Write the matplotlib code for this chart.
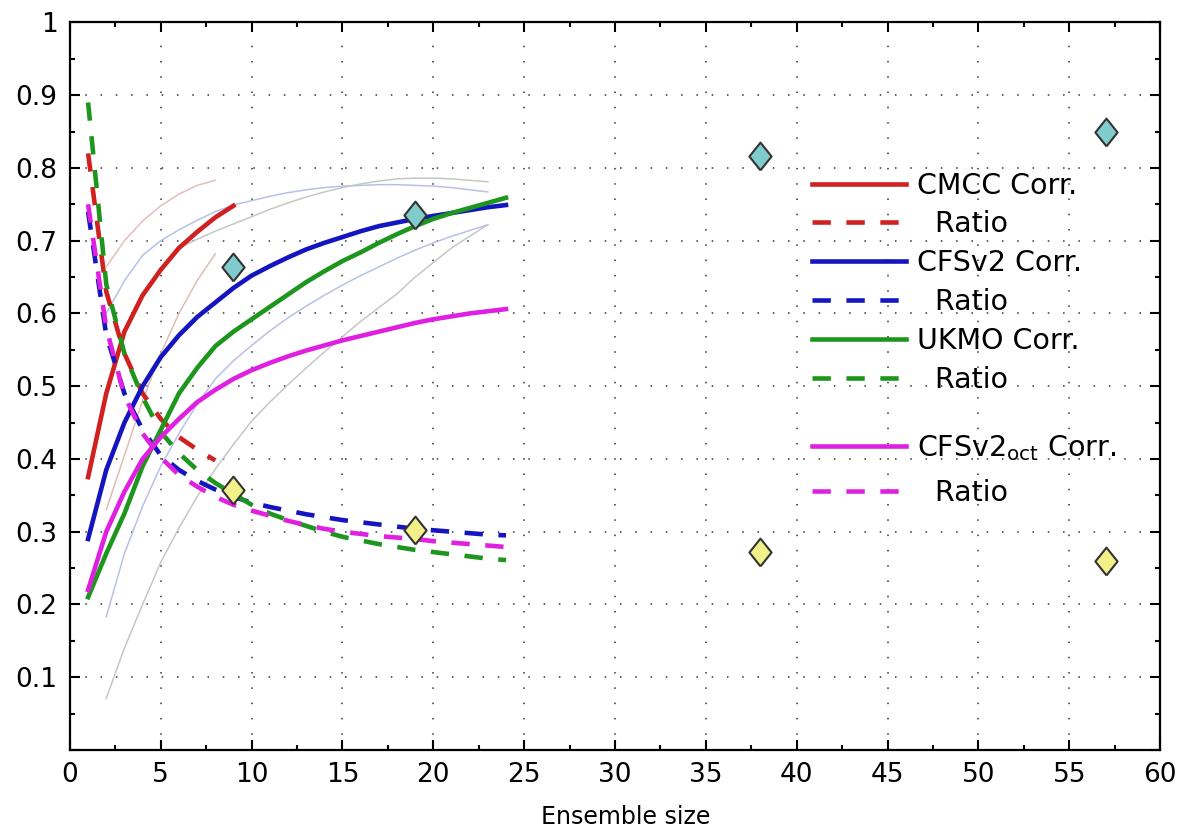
import numpy as np
import matplotlib
matplotlib.use('Agg')
import matplotlib.pyplot as plt

plt.rcParams['font.family'] = ['DejaVu Sans']
plt.rcParams['mathtext.default'] = 'regular'

# correlation vs ensemble size (thick solid lines)
cmcc_x = np.arange(1, 10)
cmcc_corr = [0.375, 0.49, 0.575, 0.625, 0.66, 0.69, 0.712, 0.732, 0.748]
ratio_x_cmcc = np.arange(1, 9)
cmcc_ratio = [0.82, 0.63, 0.545, 0.49, 0.455, 0.43, 0.413, 0.398]

n24 = np.arange(1, 25)
cfs_corr = [0.29, 0.385, 0.45, 0.50, 0.54, 0.57, 0.595, 0.615, 0.635, 0.652, 0.665, 0.677,
            0.688, 0.697, 0.705, 0.713, 0.72, 0.725, 0.73, 0.734, 0.738, 0.742, 0.746, 0.749]
ukmo_corr = [0.21, 0.27, 0.325, 0.39, 0.44, 0.49, 0.525, 0.555, 0.575, 0.592, 0.609, 0.626,
             0.643, 0.658, 0.672, 0.684, 0.697, 0.709, 0.72, 0.73, 0.738, 0.745, 0.752, 0.759]
oct_corr = [0.22, 0.30, 0.355, 0.40, 0.43, 0.455, 0.478, 0.495, 0.51, 0.522, 0.532, 0.541,
            0.549, 0.556, 0.563, 0.569, 0.575, 0.581, 0.587, 0.592, 0.596, 0.60, 0.603, 0.606]

# ratio (dashed lines)
cfs_ratio = [0.74, 0.57, 0.49, 0.44, 0.405, 0.385, 0.37, 0.358, 0.348, 0.34, 0.334, 0.329,
             0.324, 0.32, 0.316, 0.313, 0.31, 0.307, 0.304, 0.302, 0.30, 0.298, 0.296, 0.295]
ukmo_ratio = [0.89, 0.64, 0.545, 0.485, 0.437, 0.408, 0.385, 0.367, 0.352, 0.337, 0.325, 0.316,
              0.308, 0.30, 0.293, 0.288, 0.283, 0.279, 0.275, 0.272, 0.269, 0.266, 0.263, 0.261]
oct_ratio = [0.75, 0.58, 0.487, 0.435, 0.402, 0.378, 0.362, 0.348, 0.337, 0.329, 0.322, 0.315,
             0.309, 0.304, 0.30, 0.297, 0.294, 0.292, 0.29, 0.287, 0.285, 0.283, 0.281, 0.279]

# thin bounds
cmcc_bx = np.arange(2, 9)
cmcc_hi = [0.664, 0.70, 0.727, 0.748, 0.764, 0.776, 0.783]
cmcc_lo = [0.33, 0.405, 0.48, 0.545, 0.60, 0.645, 0.682]
bx23 = np.arange(2, 24)
cfs_hi = [0.60, 0.645, 0.68, 0.70, 0.715, 0.728, 0.74, 0.749, 0.755, 0.761, 0.766, 0.77,
          0.773, 0.775, 0.776, 0.777, 0.777, 0.776, 0.775, 0.773, 0.77, 0.767]
cfs_lo = [0.183, 0.27, 0.335, 0.39, 0.435, 0.475, 0.51, 0.535, 0.556, 0.576, 0.594, 0.61,
          0.625, 0.639, 0.652, 0.664, 0.676, 0.687, 0.697, 0.706, 0.714, 0.722]
ukmo_hx = np.arange(6, 24)
ukmo_hi = [0.69, 0.702, 0.713, 0.723, 0.733, 0.743, 0.752, 0.76,
           0.767, 0.773, 0.778, 0.782, 0.785, 0.786, 0.786, 0.785, 0.783, 0.781]
ukmo_lo = [0.071, 0.14, 0.20, 0.258, 0.305, 0.348, 0.386, 0.42, 0.452, 0.478, 0.502, 0.525,
           0.547, 0.568, 0.589, 0.608, 0.627, 0.65, 0.67, 0.69, 0.706, 0.722]

# full ensemble points
full_x = [9, 19, 38, 57]
full_corr = [0.664, 0.736, 0.816, 0.85]
full_ratio = [0.358, 0.303, 0.272, 0.26]

red, blue, green, mag = '#d02020', '#1414c0', '#1e961e', '#e020e0'
dash = (0, (4.0, 3.4))

fig = plt.figure(figsize=(11.85, 8.31), dpi=100)
ax = fig.add_axes([0.059, 0.0975, 0.92, 0.8755])

# thin lines
ax.plot(cmcc_bx, cmcc_hi, color='#e8bcbc', lw=1.1)
ax.plot(cmcc_bx, cmcc_lo, color='#e2bcb4', lw=1.1)
ax.plot(bx23, cfs_hi, color='#b8c0ea', lw=1.1)
ax.plot(bx23, cfs_lo, color='#b8c0ea', lw=1.1)
ax.plot(ukmo_hx, ukmo_hi, color='#c4c8c4', lw=1.1)
ax.plot(bx23, ukmo_lo, color='#c4c8c4', lw=1.1)

lw = 3.3
h = []
h += ax.plot(cmcc_x, cmcc_corr, color=red, lw=lw, label='CMCC Corr.')
h += ax.plot(ratio_x_cmcc, cmcc_ratio, color=red, lw=lw, ls=dash, label='  Ratio')
h += ax.plot(n24, cfs_corr, color=blue, lw=lw, label='CFSv2 Corr.')
h += ax.plot(n24, cfs_ratio, color=blue, lw=lw, ls=dash, label='  Ratio')
h += ax.plot(n24, ukmo_corr, color=green, lw=lw, label='UKMO Corr.')
h += ax.plot(n24, ukmo_ratio, color=green, lw=lw, ls=dash, label='  Ratio')
h += ax.plot(n24, oct_corr, color=mag, lw=lw, label='CFSv2$_{oct}$ Corr.')
h += ax.plot(n24, oct_ratio, color=mag, lw=lw, ls=dash, label='  Ratio')

diamond = [(0, -1.25), (1, 0), (0, 1.25), (-1, 0), (0, -1.25)]
ax.plot(full_x, full_corr, ls='none', marker=diamond, ms=20, mfc='#80cccc',
        mec='#333333', mew=1.5, zorder=5)
ax.plot(full_x, full_ratio, ls='none', marker=diamond, ms=20, mfc='#f2f088',
        mec='#333333', mew=1.5, zorder=5)

ax.set_xlim(0, 60)
ax.set_ylim(0, 1)
ax.set_xticks(np.arange(0, 61, 5))
ax.set_xticks(np.arange(0, 61, 2.5), minor=True)
ax.set_yticks(np.arange(0, 1.01, 0.1))
ax.set_yticks(np.arange(0, 1.01, 0.05), minor=True)
ax.set_yticklabels([''] + ['0.%d' % i for i in range(1, 10)] + ['1'])
ax.tick_params(which='both', direction='in', top=True, right=True, width=1.5, labelsize=19)
ax.tick_params(which='major', length=7, pad=9)
ax.tick_params(which='minor', length=3.5)
ax.grid(True, which='major', color='#333333', lw=1.1, ls=(0, (1, 9)))
ax.set_axisbelow(True)
for s in ax.spines.values():
    s.set_linewidth(1.6)

ax.set_xlabel('Ensemble size', fontsize=17, labelpad=9)
ax.xaxis.set_label_coords(0.51, -0.075)

leg_kw = dict(frameon=False, fontsize=20.5, handlelength=3.3, handletextpad=0.38,
              borderpad=0, borderaxespad=0)
leg1 = ax.legend(handles=h[:6], loc='upper left', bbox_to_anchor=(0.681, 0.795),
                 labelspacing=0.38, **leg_kw)
ax.add_artist(leg1)
ax.legend(handles=h[6:], loc='center left', bbox_to_anchor=(0.681, 0.385),
          labelspacing=0.55, **leg_kw)

fig.savefig('out.png', dpi=100)
